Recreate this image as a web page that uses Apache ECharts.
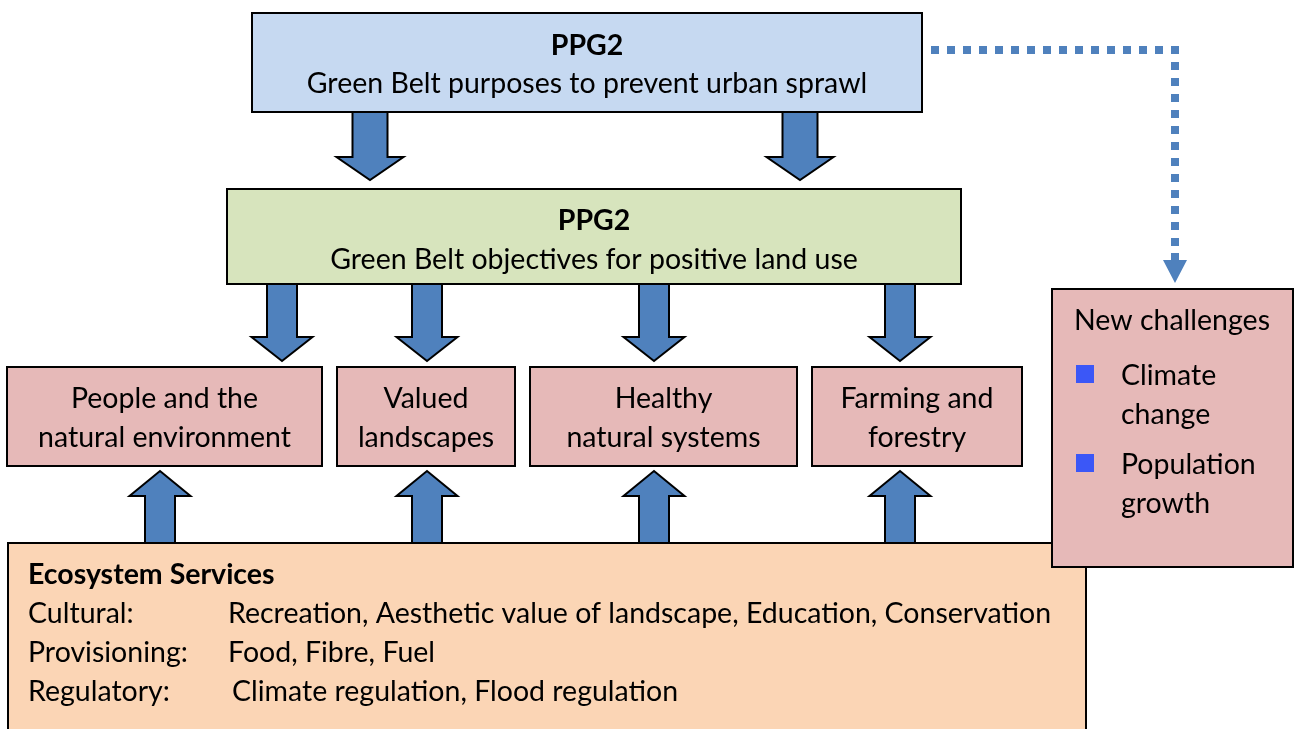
<!DOCTYPE html>
<html>
<head>
<meta charset="utf-8">
<script src="https://cdn.jsdelivr.net/npm/echarts@6/dist/echarts.min.js"></script>
<style>
html,body{margin:0;padding:0;background:#fff;}
#chart{width:1301px;height:729px;}
</style>
</head>
<body>
<div id="chart"></div>
<script>
// ---------- content (text) ----------
const topBoxTitle = 'PPG2';
const topBoxText = 'Green Belt purposes to prevent urban sprawl';
const midBoxTitle = 'PPG2';
const midBoxText = 'Green Belt objectives for positive land use';
const objectives = ['People and the\nnatural environment', 'Valued\nlandscapes', 'Healthy\nnatural systems', 'Farming and\nforestry'];
const challengesTitle = 'New challenges';
const challenges = ['Climate\nchange', 'Population\ngrowth'];
const ecoTitle = 'Ecosystem Services';
const ecoCategories = ['Cultural:', 'Provisioning:', 'Regulatory:'];
const ecoServices = ['Recreation, Aesthetic value of landscape, Education, Conservation', 'Food, Fibre, Fuel', 'Climate regulation, Flood regulation'];

// ---------- layout (diagram units) ----------
const topBoxRect = [252, 13, 922, 112];
const midBoxRect = [227, 189, 961, 284];
const objectiveRects = [[7, 367, 322, 466], [337, 367, 515, 466], [530, 367, 797, 466], [812, 367, 1022, 466]];
const ecoRect = [8, 543, 1086, 740];
const challengesRect = [1052, 289, 1293, 567];
// arrows: [centerX, startY, headBaseY, tipY, shaftWidth, headWidth]
const topArrows = [[370, 112, 157, 180, 35, 67], [800, 112, 157, 180, 35, 67]];
const midArrows = [[282, 284, 337, 361, 30, 61], [427, 284, 337, 361, 30, 61], [654, 284, 337, 361, 30, 61], [900, 284, 337, 361, 30, 61]];
const upArrows = [[160, 543, 496, 471, 30, 61], [427, 543, 496, 471, 30, 61], [654, 543, 496, 471, 30, 61], [900, 543, 496, 471, 30, 61]];
const dottedPath = [[931, 50], [1175, 50], [1175, 253]];
const dottedHead = [1175, 253, 260, 283, 8, 24];

const C = {
  blue: '#c6d9f1', green: '#d7e4bd', pink: '#e6b9b8', orange: '#fbd5b5',
  arrow: '#4f81bd', bullet: '#3b57f7'
};
const FONT = 'Lato';
const FS = 28.5;

const boxes = [
  {r: topBoxRect, fill: C.blue},
  {r: midBoxRect, fill: C.green},
  ...objectiveRects.map(r => ({r, fill: C.pink})),
  {r: ecoRect, fill: C.orange},
  {r: challengesRect, fill: C.pink}
];

function arrowPoints(api, a) {
  const [cx, y0, yh, y1, sw, hw] = a;
  const pts = [[cx - sw / 2, y0], [cx + sw / 2, y0], [cx + sw / 2, yh], [cx + hw / 2, yh], [cx, y1], [cx - hw / 2, yh], [cx - sw / 2, yh]];
  return pts.map(p => api.coord(p));
}

function txt(api, x, y, text, opts) {
  const p = api.coord([x, y]);
  return {
    type: 'text',
    style: Object.assign({
      x: p[0], y: p[1], text,
      fill: '#000', font: (opts && opts.bold ? 'bold ' : '') + FS + 'px ' + FONT,
      align: 'left', verticalAlign: 'middle'
    }, opts && opts.style)
  };
}

const allArrows = [...topArrows, ...midArrows, ...upArrows];

const option = {
  animation: false,
  backgroundColor: '#fff',
  grid: {left: 0, right: 0, top: 0, bottom: 0},
  xAxis: {type: 'value', min: 0, max: 1301, show: false},
  yAxis: {type: 'value', min: 0, max: 729, inverse: true, show: false},
  series: [
    {
      type: 'custom', name: 'arrows', silent: true, z: 1,
      data: allArrows.map((a, i) => i),
      renderItem: (params, api) => {
        const a = allArrows[params.dataIndex];
        return {
          type: 'polygon',
          shape: {points: arrowPoints(api, a)},
          style: {fill: C.arrow, stroke: '#000', lineWidth: 2, lineJoin: 'miter'}
        };
      }
    },
    {
      type: 'custom', name: 'boxes', silent: true, z: 2,
      data: boxes.map((b, i) => i),
      renderItem: (params, api) => {
        const b = boxes[params.dataIndex];
        const p0 = api.coord([b.r[0], b.r[1]]);
        const p1 = api.coord([b.r[2], b.r[3]]);
        return {
          type: 'rect', z2: params.dataIndex,
          shape: {x: p0[0], y: p0[1], width: p1[0] - p0[0], height: p1[1] - p0[1]},
          style: {fill: b.fill, stroke: '#000', lineWidth: 2}
        };
      }
    },
    {
      type: 'custom', name: 'connector', silent: true, z: 3,
      data: [0],
      renderItem: (params, api) => {
        return {
          type: 'group',
          children: [
            {
              type: 'polyline',
              shape: {points: dottedPath.map(p => api.coord(p))},
              style: {stroke: C.arrow, lineWidth: 8, lineDash: [8, 8], lineCap: 'butt', lineJoin: 'miter', fill: null}
            },
            {
              type: 'polygon',
              shape: {points: arrowPoints(api, dottedHead)},
              style: {fill: C.arrow}
            }
          ]
        };
      }
    },
    {
      type: 'custom', name: 'labels', silent: true, z: 4,
      data: [0],
      renderItem: (params, api) => {
        const children = [];
        const cx = r => (r[0] + r[2]) / 2;
        // top box
        children.push(txt(api, cx(topBoxRect), 46, topBoxTitle, {bold: true, style: {align: 'center'}}));
        children.push(txt(api, cx(topBoxRect), 84, topBoxText, {style: {align: 'center'}}));
        // mid box
        children.push(txt(api, cx(midBoxRect), 221, midBoxTitle, {bold: true, style: {align: 'center'}}));
        children.push(txt(api, cx(midBoxRect), 260, midBoxText, {style: {align: 'center'}}));
        // objectives
        objectives.forEach((t, i) => {
          const r = objectiveRects[i];
          children.push(txt(api, cx(r), 418, t, {style: {align: 'center', lineHeight: 39}}));
        });
        // challenges
        children.push(txt(api, 1074, 321, challengesTitle));
        challenges.forEach((t, i) => {
          const y = [395, 484][i];
          children.push(txt(api, 1121, y, t, {style: {lineHeight: 39}}));
          const a = api.coord([1076, [365, 454][i]]);
          const b = api.coord([1094, [383, 472][i]]);
          children.push({type: 'rect', shape: {x: a[0], y: a[1], width: b[0] - a[0], height: b[1] - a[1]}, style: {fill: C.bullet}});
        });
        // eco
        children.push(txt(api, 28, 575, ecoTitle, {bold: true}));
        ecoCategories.forEach((t, i) => {
          const y = [614, 653, 692][i];
          children.push(txt(api, 28, y, t));
          children.push(txt(api, [228, 228, 232][i], y, ecoServices[i]));
        });
        return {type: 'group', children};
      }
    }
  ]
};

const chart = echarts.init(document.getElementById('chart'), null, {renderer: 'canvas'});
chart.setOption(option);
</script>
</body>
</html>
